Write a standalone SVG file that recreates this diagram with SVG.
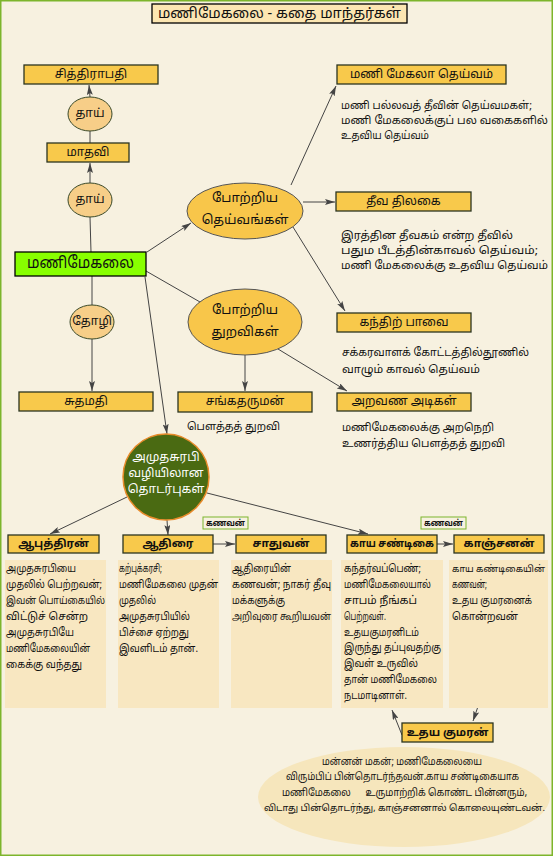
<svg xmlns="http://www.w3.org/2000/svg" width="553" height="856" viewBox="0 0 553 856">
<style>
text{font-family:"Noto Sans Tamil","Noto Sans","DejaVu Sans",sans-serif;fill:#111}
.lbl{font-size:12px;text-anchor:middle;dominant-baseline:central}
.b{font-weight:bold;font-size:11px}
.box{fill:#F8C94B;stroke:#2b3520;stroke-width:1.3}
.kin{fill:#F7CE88;stroke:#3a4a2a;stroke-width:1}
.big{fill:#F8C64A;stroke:#555;stroke-width:1}
.desc{font-size:11px;dominant-baseline:central}
.sm{font-size:10px}
.xs{font-size:9.3px}
.el{font-size:10px;dominant-baseline:central}
.panel{fill:#F8E7C1}
.tag{fill:#F7F1E0;stroke:#7DB52C;stroke-width:1}
.conn line{stroke:#444;stroke-width:1}
</style>
<defs>
<marker id="ar" viewBox="0 0 10 6" refX="10" refY="3" markerWidth="10" markerHeight="6" orient="auto" markerUnits="userSpaceOnUse">
<path d="M0,0 L10,3 L0,6 L2,3 z" fill="#444"/>
</marker>
</defs>
<rect x="0.75" y="0.75" width="551.5" height="854.5" fill="#F7F1E0" stroke="#7DB52C" stroke-width="1.5"/>

<g id="title">
<rect x="152" y="4" width="255" height="19" fill="#FCE6B2" stroke="#000" stroke-width="1.3"/>
<text x="279.5" y="14" class="lbl" style="font-size:14px" textLength="243" lengthAdjust="spacingAndGlyphs">மணிமேகலை - கதை மாந்தர்கள்</text>
</g>

<g class="conn">
<line x1="91" y1="252" x2="90" y2="217"/>
<line x1="90" y1="183" x2="90" y2="163" marker-end="url(#ar)"/>
<line x1="90" y1="143" x2="90" y2="131"/>
<line x1="90" y1="97" x2="89" y2="85" marker-end="url(#ar)"/>
<line x1="92" y1="276" x2="92" y2="305"/>
<line x1="92" y1="339" x2="92" y2="391" marker-end="url(#ar)"/>
<line x1="147" y1="252" x2="191" y2="223" marker-end="url(#ar)"/>
<line x1="146" y1="271" x2="200" y2="302"/>
<line x1="145" y1="277" x2="167" y2="434" marker-end="url(#ar)"/>
<line x1="291" y1="185" x2="336" y2="86" marker-end="url(#ar)"/>
<line x1="303" y1="202" x2="335" y2="202" marker-end="url(#ar)"/>
<line x1="293" y1="227" x2="345" y2="311" marker-end="url(#ar)"/>
<line x1="278" y1="349" x2="347" y2="391" marker-end="url(#ar)"/>
<line x1="245" y1="355" x2="245" y2="391" marker-end="url(#ar)"/>
<line x1="127" y1="497" x2="50" y2="534" marker-end="url(#ar)"/>
<line x1="167" y1="520" x2="168" y2="535" marker-end="url(#ar)"/>
<line x1="207" y1="493" x2="368" y2="534" marker-end="url(#ar)"/>
<line x1="213" y1="544" x2="235" y2="544" marker-end="url(#ar)"/>
<line x1="437" y1="544" x2="453" y2="544" marker-end="url(#ar)"/>
<line x1="506" y1="625" x2="473" y2="721" marker-end="url(#ar)"/>
<line x1="402" y1="735" x2="392" y2="710" marker-end="url(#ar)"/>
</g>

<g id="chithirapathi"><rect class="box" x="24" y="65" width="134" height="19"/><text class="lbl" x="91" y="74.5">சித்திராபதி</text></g>
<g id="thaai1"><ellipse class="kin" cx="90" cy="114" rx="22" ry="17"/><text class="lbl" x="90" y="114">தாய்</text></g>
<g id="madhavi"><rect class="box" x="47" y="143" width="82" height="19"/><text class="lbl" x="88" y="152.5">மாதவி</text></g>
<g id="thaai2"><ellipse class="kin" cx="90" cy="200" rx="22" ry="17"/><text class="lbl" x="90" y="200">தாய்</text></g>
<g id="manimegalai"><rect x="15" y="252" width="131" height="24" fill="#88FF00" stroke="#000" stroke-width="1.3"/><text class="lbl" x="80.5" y="264" style="font-size:16px" textLength="107" lengthAdjust="spacingAndGlyphs">மணிமேகலை</text></g>
<g id="thozhi"><ellipse class="kin" cx="92" cy="322" rx="22" ry="17"/><text class="lbl" x="92" y="322">தோழி</text></g>
<g id="sudhamathi"><rect class="box" x="19" y="392" width="134" height="19"/><text class="lbl" x="86" y="401.5">சுதமதி</text></g>

<g id="deities"><ellipse class="big" cx="245" cy="211" rx="58" ry="28"/><text class="lbl" x="245" y="199" style="font-size:13px">போற்றிய</text><text class="lbl" x="245" y="221" style="font-size:13px">தெய்வங்கள்</text></g>
<g id="monks"><ellipse class="big" cx="245" cy="322" rx="57" ry="33"/><text class="lbl" x="245" y="311" style="font-size:13px">போற்றிய</text><text class="lbl" x="245" y="333" style="font-size:13px">துறவிகள்</text></g>

<g id="manimekala-deivam"><rect class="box" x="337" y="65" width="169" height="19"/><text class="lbl" x="421.5" y="74.5">மணி மேகலா தெய்வம்</text>
<text class="desc" x="341" y="106" textLength="191" lengthAdjust="spacingAndGlyphs">மணி பல்லவத் தீவின் தெய்வமகள்;</text>
<text class="desc" x="341" y="121" textLength="207" lengthAdjust="spacingAndGlyphs">மணி மேகலைக்குப் பல வகைகளில்</text>
<text class="desc" x="341" y="136" textLength="88" lengthAdjust="spacingAndGlyphs">உதவிய தெய்வம்</text></g>

<g id="theeva-thilagai"><rect class="box" x="336" y="192" width="135" height="19"/><text class="lbl" x="403.5" y="201.5">தீவ திலகை</text>
<text class="desc" x="341" y="236" textLength="172" lengthAdjust="spacingAndGlyphs">இரத்தின தீவகம் என்ற தீவில்</text>
<text class="desc" x="341" y="251" textLength="197" lengthAdjust="spacingAndGlyphs">பதும பீடத்தின்காவல் தெய்வம்;</text>
<text class="desc" x="341" y="266" textLength="207" lengthAdjust="spacingAndGlyphs">மணி மேகலைக்கு உதவிய தெய்வம்</text></g>

<g id="kanthir-paavai"><rect class="box" x="337" y="313" width="134" height="19"/><text class="lbl" x="404" y="322.5">கந்திற் பாவை</text>
<text class="desc" x="342" y="353" textLength="187" lengthAdjust="spacingAndGlyphs">சக்கரவாளக் கோட்டத்தில்தூணில்</text>
<text class="desc" x="342" y="370" textLength="138" lengthAdjust="spacingAndGlyphs">வாழும் காவல் தெய்வம்</text></g>

<g id="aravana-adigal"><rect class="box" x="337" y="393" width="134" height="18"/><text class="lbl" x="404" y="402">அறவண அடிகள்</text>
<text class="desc" x="342" y="428" textLength="152" lengthAdjust="spacingAndGlyphs">மணிமேகலைக்கு அறநெறி</text>
<text class="desc" x="342" y="444" textLength="163" lengthAdjust="spacingAndGlyphs">உணர்த்திய பௌத்தத் துறவி</text></g>

<g id="sangatharuman"><rect class="box" x="178" y="392" width="134" height="20"/><text class="lbl" x="245" y="402">சங்கதருமன்</text>
<text class="desc" x="187" y="427" textLength="93" lengthAdjust="spacingAndGlyphs">பௌத்தத் துறவி</text></g>

<g id="amudhasurabi"><circle cx="166" cy="477" r="43" fill="#4A6A12" stroke="#E88B2A" stroke-width="1.5"/>
<text class="lbl" x="166" y="458" style="fill:#fff">அமுதசுரபி</text>
<text class="lbl" x="166" y="474" style="fill:#fff">வழியிலான</text>
<text class="lbl" x="166" y="490" style="fill:#fff">தொடர்புகள்</text></g>

<g id="tag1"><rect class="tag" x="203" y="517" width="45" height="12"/><text class="lbl" x="225.5" y="523" style="font-size:9px;font-weight:bold" textLength="39" lengthAdjust="spacingAndGlyphs">கணவன்</text></g>
<g id="tag2"><rect class="tag" x="421" y="517" width="45" height="12"/><text class="lbl" x="443.5" y="523" style="font-size:9px;font-weight:bold" textLength="39" lengthAdjust="spacingAndGlyphs">கணவன்</text></g>

<g id="aaputhiran"><rect class="box" x="8" y="535" width="91" height="18"/><text class="lbl b" x="53.5" y="544">ஆபுத்திரன்</text>
<rect class="panel" x="5" y="560" width="101" height="148"/>
<text class="desc" x="6" y="569" textLength="70" lengthAdjust="spacingAndGlyphs">அமுதசுரபியை</text>
<text class="desc" x="6" y="585" textLength="96" lengthAdjust="spacingAndGlyphs">முதலில் பெற்றவன்;</text>
<text class="desc sm" x="6" y="601" textLength="99" lengthAdjust="spacingAndGlyphs">இவன் பொய்கையில்</text>
<text class="desc" x="6" y="617" textLength="82" lengthAdjust="spacingAndGlyphs">விட்டுச் சென்ற</text>
<text class="desc" x="6" y="633" textLength="68" lengthAdjust="spacingAndGlyphs">அமுதசுரபியே</text>
<text class="desc" x="6" y="649" textLength="84" lengthAdjust="spacingAndGlyphs">மணிமேகலையின்</text>
<text class="desc" x="6" y="665" textLength="76" lengthAdjust="spacingAndGlyphs">கைக்கு வந்தது</text></g>

<g id="aathirai"><rect class="box" x="123" y="535" width="90" height="18"/><text class="lbl b" x="168" y="544">ஆதிரை</text>
<rect class="panel" x="118" y="560" width="101" height="148"/>
<text class="desc" x="119" y="569" textLength="43" lengthAdjust="spacingAndGlyphs">கற்புக்கரசி;</text>
<text class="desc" x="119" y="585" textLength="99" lengthAdjust="spacingAndGlyphs">மணிமேகலை முதன்</text>
<text class="desc" x="119" y="601" textLength="37" lengthAdjust="spacingAndGlyphs">முதலில்</text>
<text class="desc" x="119" y="617" textLength="71" lengthAdjust="spacingAndGlyphs">அமுதசுரபியில்</text>
<text class="desc" x="119" y="633" textLength="70" lengthAdjust="spacingAndGlyphs">பிச்சை ஏற்றது</text>
<text class="desc" x="119" y="649" textLength="79" lengthAdjust="spacingAndGlyphs">இவளிடம் தான்.</text></g>

<g id="saadhuvan"><rect class="box" x="236" y="535" width="90" height="18"/><text class="lbl b" x="281" y="544">சாதுவன்</text>
<rect class="panel" x="231" y="560" width="101" height="148"/>
<text class="desc" x="232" y="569" textLength="59" lengthAdjust="spacingAndGlyphs">ஆதிரையின்</text>
<text class="desc" x="232" y="585" textLength="99" lengthAdjust="spacingAndGlyphs">கணவன்; நாகர் தீவு</text>
<text class="desc" x="232" y="601" textLength="53" lengthAdjust="spacingAndGlyphs">மக்களுக்கு</text>
<text class="desc sm" x="232" y="617" textLength="99" lengthAdjust="spacingAndGlyphs">அறிவுரை கூறியவன்</text></g>

<g id="kaaya-sandigai"><rect class="box" x="347" y="535" width="90" height="18"/><text class="lbl b" x="392" y="544" textLength="84" lengthAdjust="spacingAndGlyphs">காய சண்டிகை</text>
<rect class="panel" x="341" y="560" width="102" height="148"/>
<text class="desc" x="344" y="569" textLength="77" lengthAdjust="spacingAndGlyphs">கந்தர்வப்பெண்;</text>
<text class="desc" x="344" y="585" textLength="87" lengthAdjust="spacingAndGlyphs">மணிமேகலையால்</text>
<text class="desc" x="344" y="601" textLength="73" lengthAdjust="spacingAndGlyphs">சாபம் நீங்கப்</text>
<text class="desc" x="344" y="617" textLength="42" lengthAdjust="spacingAndGlyphs">பெற்றவள்.</text>
<text class="desc" x="344" y="633" textLength="75" lengthAdjust="spacingAndGlyphs">உதயகுமரனிடம்</text>
<text class="desc" x="344" y="648" textLength="97" lengthAdjust="spacingAndGlyphs">இருந்து தப்புவதற்கு</text>
<text class="desc" x="344" y="664" textLength="74" lengthAdjust="spacingAndGlyphs">இவள் உருவில்</text>
<text class="desc" x="344" y="680" textLength="93" lengthAdjust="spacingAndGlyphs">தான் மணிமேகலை</text>
<text class="desc" x="344" y="696" textLength="63" lengthAdjust="spacingAndGlyphs">நடமாடினாள்.</text></g>

<g id="kaanchanan"><rect class="box" x="454" y="535" width="90" height="18"/><text class="lbl b" x="499" y="544">காஞ்சனன்</text>
<rect class="panel" x="449" y="560" width="99" height="148"/>
<text class="desc xs" x="452" y="569" textLength="93" lengthAdjust="spacingAndGlyphs">காய கண்டிகையின்</text>
<text class="desc" x="452" y="585" textLength="35" lengthAdjust="spacingAndGlyphs">கணவன்;</text>
<text class="desc" x="452" y="601" textLength="80" lengthAdjust="spacingAndGlyphs">உதய குமரனைக்</text>
<text class="desc" x="452" y="617" textLength="66" lengthAdjust="spacingAndGlyphs">கொன்றவன்</text></g>

<g id="udhaya-kumaran"><rect class="box" x="402" y="723" width="91" height="19"/><text class="lbl b" x="447.5" y="732.5">உதய குமரன்</text>
<ellipse cx="404" cy="797" rx="146" ry="50" fill="#F6E6BC"/>
<text class="el" x="322" y="762" textLength="160" lengthAdjust="spacingAndGlyphs">மன்னன் மகன்; மணிமேகலையை</text>
<text class="el" x="286" y="777" textLength="233" lengthAdjust="spacingAndGlyphs">விரும்பிப் பின்தொடர்ந்தவன்.காய சண்டிகையாக</text>
<text class="el" x="282" y="793" textLength="245" lengthAdjust="spacingAndGlyphs" xml:space="preserve">மணிமேகலை      உருமாற்றிக் கொண்ட பின்னரும்,</text>
<text class="el" x="264" y="809" style="font-size:9.5px" textLength="281" lengthAdjust="spacingAndGlyphs">விடாது பின்தொடர்ந்து, காஞ்சனனால் கொலையுண்டவன்.</text></g>
</svg>
